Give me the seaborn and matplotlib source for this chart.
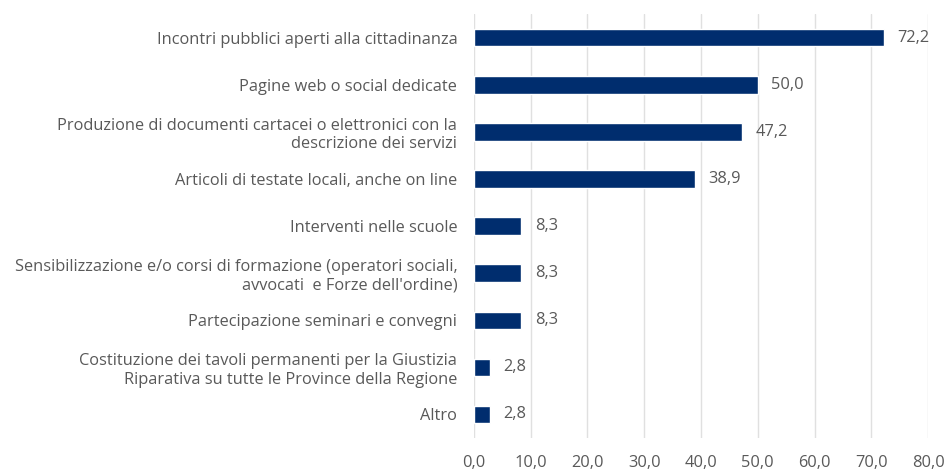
import matplotlib.pyplot as plt
import pandas as pd
import seaborn as sns

categories = [
    "Incontri pubblici aperti alla cittadinanza",
    "Pagine web o social dedicate",
    "Produzione di documenti cartacei o elettronici con la\ndescrizione dei servizi",
    "Articoli di testate locali, anche on line",
    "Interventi nelle scuole",
    "Sensibilizzazione e/o corsi di formazione (operatori sociali,\navvocati  e Forze dell'ordine)",
    "Partecipazione seminari e convegni",
    "Costituzione dei tavoli permanenti per la Giustizia\nRiparativa su tutte le Province della Regione",
    "Altro",
]
values = [72.2, 50.0, 47.2, 38.9, 8.3, 8.3, 8.3, 2.8, 2.8]

df = pd.DataFrame({"Categoria": categories, "Valore": values})

sns.set_style("white")
plt.rcParams["font.family"] = ["Open Sans", "DejaVu Sans"]
text_color = "#595959"

fig = plt.figure(figsize=(9.47, 4.72), dpi=100)
ax = fig.add_axes([0.5005, 0.072, 0.4795, 0.898])

sns.barplot(data=df, x="Valore", y="Categoria", color="#002D6E",
            width=0.37, ax=ax, saturation=1, zorder=3)

ax.set_xlim(0, 80)
ax.set_xticks(range(0, 81, 10))
ax.set_xticklabels([f"{t:.1f}".replace(".", ",") for t in range(0, 81, 10)])
ax.xaxis.grid(True, color="#e0e0e0", linewidth=1.0, zorder=0)
ax.set_xlabel("")
ax.set_ylabel("")
for s in ax.spines.values():
    s.set_visible(False)
ax.tick_params(axis="x", length=0, pad=12, labelsize=11.8, labelcolor=text_color)
ax.tick_params(axis="y", length=0, pad=12, labelsize=11.8, labelcolor=text_color)
for lbl in ax.get_yticklabels():
    lbl.set_horizontalalignment("right")
    lbl.set_multialignment("right")

for i, v in enumerate(values):
    ax.text(v + 2.4, i, f"{v:.1f}".replace(".", ","), va="center", ha="left",
            fontsize=11.8, color=text_color)

fig.savefig("out.png", dpi=100)
